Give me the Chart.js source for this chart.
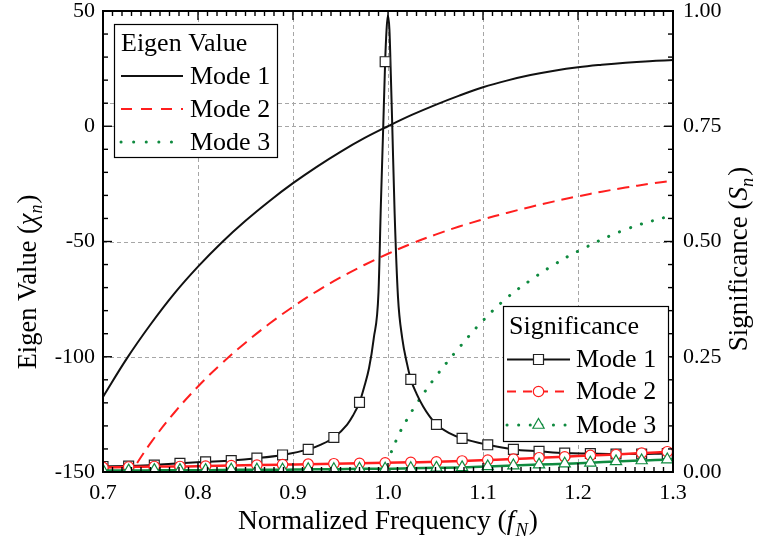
<!DOCTYPE html>
<html>
<head>
<meta charset="utf-8">
<title>Eigen Value and Significance</title>
<script src="https://cdn.jsdelivr.net/npm/chart.js@4.4.1/dist/chart.umd.min.js"></script>
<style>
  html, body { margin: 0; padding: 0; background: #ffffff; }
  canvas { display: block; }
</style>
</head>
<body>
<canvas id="chart" width="757" height="551"></canvas>
<script>
// ---------------------------------------------------------------- data
const freqTicks  = [0.7, 0.8, 0.9, 1.0, 1.1, 1.2, 1.3];
const eigenTicks = [-150, -100, -50, 0, 50];
const sigTicks   = [0, 0.25, 0.5, 0.75, 1.0];
const freqGrid   = [0.8, 0.9, 1.0, 1.1, 1.2];
const eigenGrid  = [10, 0, -50, -100];

const modeLabels = ['Mode 1', 'Mode 2', 'Mode 3'];

// Eigenvalue (chi_n) of each characteristic mode versus normalized frequency
const eig1Freq = [0.700, 0.725, 0.750, 0.775, 0.800, 0.825, 0.850, 0.875, 0.900, 0.925, 0.950, 0.975, 1.000,
                  1.025, 1.050, 1.075, 1.100, 1.125, 1.150, 1.175, 1.200, 1.225, 1.250, 1.275, 1.300];
const eig1Val  = [-117.4, -100.8, -86.0, -72.6, -60.9, -50.4, -41.0, -32.5, -24.7, -17.6, -11.1, -5.2, 0.0,
                  4.9, 9.3, 13.3, 16.9, 19.8, 22.2, 24.1, 25.6, 26.7, 27.6, 28.25, 28.7];

const eig2Freq = [0.725, 0.750, 0.775, 0.800, 0.825, 0.850, 0.875, 0.900, 0.925, 0.950, 0.975, 1.000,
                  1.025, 1.050, 1.075, 1.100, 1.125, 1.150, 1.175, 1.200, 1.225, 1.250, 1.275, 1.300];
const eig2Val  = [-153, -137.5, -124.3, -112.9, -102.9, -93.9, -85.7, -78.3, -71.6, -65.6, -60.2, -55.3,
                  -50.9, -47.0, -43.5, -40.4, -37.6, -35.0, -32.6, -30.4, -28.4, -26.6, -25.0, -23.6];

const eig3Freq = [0.997, 1.00, 1.01, 1.02, 1.03, 1.05, 1.075, 1.10, 1.125, 1.15, 1.175, 1.20, 1.25, 1.30];
const eig3Val  = [-156, -146, -135, -127.2, -120.5, -108.8, -96, -84.3, -74.5, -66.8, -60, -54.2, -44.8, -38.5];

// Modal significance (S_n); symbols sit at the sampled frequencies in markerFreq
const markerFreq = [0.700, 0.727, 0.754, 0.781, 0.808, 0.835, 0.862, 0.889, 0.916, 0.943, 0.970, 0.997,
                    1.024, 1.051, 1.078, 1.105, 1.132, 1.159, 1.186, 1.213, 1.240, 1.267, 1.294];

const sig1Freq = [0.700, 0.727, 0.754, 0.781, 0.808, 0.835, 0.862, 0.889, 0.916, 0.930, 0.943, 0.957,
                  0.963, 0.970, 0.975, 0.980, 0.985, 0.990, 0.9925, 0.995, 0.997, 0.9985, 0.9998, 1.0015,
                  1.003, 1.0045, 1.007, 1.0105, 1.015, 1.020, 1.024, 1.030, 1.037, 1.044, 1.051, 1.064,
                  1.078, 1.105, 1.132, 1.159, 1.186, 1.213, 1.240, 1.267, 1.294, 1.300];
const sig1Val  = [0.012, 0.013, 0.015, 0.019, 0.022, 0.025, 0.030, 0.037, 0.049, 0.060, 0.075, 0.103,
                  0.122, 0.151, 0.185, 0.225, 0.290, 0.390, 0.580, 0.750, 0.890, 0.960, 0.990, 0.960,
                  0.860, 0.750, 0.560, 0.380, 0.290, 0.235, 0.201, 0.170, 0.142, 0.120, 0.103, 0.085,
                  0.073, 0.059, 0.049, 0.045, 0.041, 0.040, 0.039, 0.039, 0.040, 0.040];

const sig2Freq = [0.700, 0.727, 0.754, 0.781, 0.808, 0.835, 0.862, 0.889, 0.916, 0.943, 0.970, 0.997,
                  1.024, 1.051, 1.078, 1.105, 1.132, 1.159, 1.186, 1.213, 1.240, 1.267, 1.294, 1.300];
const sig2Val  = [0.010, 0.011, 0.012, 0.012, 0.013, 0.014, 0.015, 0.016, 0.017, 0.018, 0.019, 0.020,
                  0.021, 0.022, 0.024, 0.026, 0.028, 0.031, 0.033, 0.036, 0.038, 0.041, 0.044, 0.045];

const sig3Freq = sig2Freq;
const sig3Val  = [0.003, 0.003, 0.004, 0.004, 0.004, 0.005, 0.005, 0.005, 0.006, 0.006, 0.007, 0.007,
                  0.008, 0.009, 0.010, 0.012, 0.014, 0.016, 0.018, 0.020, 0.023, 0.025, 0.027, 0.028];

// ---------------------------------------------------------------- styling
const SERIF = '"Liberation Serif", "Times New Roman", Times, serif';
const BLACK = '#111111';
const RED   = '#ff1e1e';
const GREEN = '#0f8a3f';

const toXY = (xs, ys) => xs.map((x, i) => ({ x: x, y: ys[i] }));
const markerRadius = (xs, r) => xs.map(x => markerFreq.some(m => Math.abs(m - x) < 1e-9) ? r : 0);

const smooth = { cubicInterpolationMode: 'default', tension: 0.4 };

const eigenDatasets = [
  Object.assign({ label: modeLabels[0], group: 'eigen', yAxisID: 'y', data: toXY(eig1Freq, eig1Val),
    borderColor: BLACK, borderWidth: 2, pointRadius: 0, order: 6 }, smooth),
  Object.assign({ label: modeLabels[1], group: 'eigen', yAxisID: 'y', data: toXY(eig2Freq, eig2Val),
    borderColor: RED, borderWidth: 2, borderDash: [12, 7], pointRadius: 0, order: 5 }, smooth),
  Object.assign({ label: modeLabels[2], group: 'eigen', yAxisID: 'y', data: toXY(eig3Freq, eig3Val),
    borderColor: GREEN, borderWidth: 3, borderDash: [0.1, 11.5], borderCapStyle: 'round', pointRadius: 0, order: 4 }, smooth)
];

const sigDatasets = [
  { label: modeLabels[0], group: 'sig', yAxisID: 'y2', data: toXY(sig1Freq, sig1Val),
    borderColor: BLACK, borderWidth: 2, pointStyle: 'rect', pointRadius: markerRadius(sig1Freq, 7),
    pointBorderColor: '#222222', pointBackgroundColor: '#ffffff', pointBorderWidth: 1.2, order: 3 },
  { label: modeLabels[1], group: 'sig', yAxisID: 'y2', data: toXY(sig2Freq, sig2Val),
    borderColor: RED, borderWidth: 2.5, pointStyle: 'circle', pointRadius: markerRadius(sig2Freq, 5.2),
    pointBorderColor: RED, pointBackgroundColor: '#ffffff', pointBorderWidth: 1.2, order: 2 },
  { label: modeLabels[2], group: 'sig', yAxisID: 'y2', data: toXY(sig3Freq, sig3Val),
    borderColor: GREEN, borderWidth: 2.5, pointStyle: 'triangle', pointRadius: markerRadius(sig3Freq, 6.5),
    pointBorderColor: GREEN, pointBackgroundColor: '#ffffff', pointBorderWidth: 1.2, order: 1 }
];

// ---------------------------------------------------------------- drawing helpers
function strokeLine(ctx, x1, y1, x2, y2) {
  ctx.beginPath(); ctx.moveTo(x1, y1); ctx.lineTo(x2, y2); ctx.stroke();
}

function drawSymbol(ctx, style, x, y, color) {
  ctx.save();
  ctx.setLineDash([]);
  ctx.fillStyle = '#ffffff';
  ctx.strokeStyle = color;
  ctx.lineWidth = 1.2;
  ctx.beginPath();
  if (style === 'rect') {
    ctx.rect(x - 5, y - 5, 10, 10);
  } else if (style === 'circle') {
    ctx.arc(x, y, 5.2, 0, Math.PI * 2);
  } else if (style === 'triangle') {
    const r = 6.5;
    ctx.moveTo(x, y - r);
    ctx.lineTo(x + r * Math.sin(Math.PI * 2 / 3), y - r * Math.cos(Math.PI * 2 / 3));
    ctx.lineTo(x + r * Math.sin(Math.PI * 4 / 3), y - r * Math.cos(Math.PI * 4 / 3));
    ctx.closePath();
  }
  ctx.fill();
  ctx.stroke();
  ctx.restore();
}

// text made of plain / italic / subscript runs, centred on (cx, cy)
function drawRich(ctx, runs, cx, cy, size) {
  const fontFor = r => (r.italic ? 'italic ' : '') + (r.sub ? size * 0.68 : size) + 'px ' + SERIF;
  let total = 0;
  runs.forEach(r => { ctx.font = fontFor(r); r.w = ctx.measureText(r.t).width + (r.gap || 0); total += r.w; });
  let x = cx - total / 2;
  const base = cy + size * 0.33;
  ctx.textAlign = 'left';
  ctx.textBaseline = 'alphabetic';
  runs.forEach(r => {
    ctx.font = fontFor(r);
    ctx.fillText(r.t, x, base + (r.sub ? size * 0.24 : 0));
    x += r.w;
  });
}

function drawLegend(ctx, box, title, datasets) {
  ctx.save();
  ctx.fillStyle = '#ffffff';
  ctx.fillRect(box.x, box.y, box.w, box.h);
  ctx.strokeStyle = '#000000';
  ctx.lineWidth = 1.2;
  ctx.strokeRect(box.x + 0.5, box.y + 0.5, box.w, box.h);

  ctx.fillStyle = '#000000';
  ctx.font = box.font + 'px ' + SERIF;
  ctx.textAlign = 'left';
  ctx.textBaseline = 'middle';
  ctx.fillText(title, box.textX0, box.titleY);

  datasets.forEach((ds, i) => {
    const y = box.rowY[i];
    ctx.save();
    ctx.strokeStyle = ds.borderColor;
    ctx.lineWidth = ds.borderWidth;
    ctx.lineCap = ds.borderCapStyle || 'butt';
    ctx.setLineDash(ds.legendDash || []);
    strokeLine(ctx, box.lineX1, y, box.lineX2, y);
    ctx.restore();
    if (ds.pointStyle) drawSymbol(ctx, ds.pointStyle, (box.lineX1 + box.lineX2) / 2, y, ds.pointBorderColor);
    ctx.fillStyle = '#000000';
    ctx.font = box.font + 'px ' + SERIF;
    ctx.fillText(ds.label, box.textX, y + 1);
  });
  ctx.restore();
}

// ---------------------------------------------------------------- frame, ticks, grid, legends, titles
const decorations = {
  id: 'decorations',
  beforeDatasetsDraw(chart) {
    const { ctx, chartArea: a, scales } = chart;
    ctx.save();
    ctx.strokeStyle = '#a6a6a6';
    ctx.lineWidth = 1;
    ctx.setLineDash([4, 3]);
    freqGrid.forEach(v => {
      const px = Math.round(scales.x.getPixelForValue(v)) + 0.5;
      strokeLine(ctx, px, a.top, px, a.bottom);
    });
    eigenGrid.forEach(v => {
      const py = Math.round(scales.y.getPixelForValue(v)) + 0.5;
      strokeLine(ctx, a.left, py, a.right, py);
    });
    ctx.restore();
  },
  afterDatasetsDraw(chart) {
    const { ctx, chartArea: a, scales } = chart;
    ctx.save();
    ctx.strokeStyle = '#000000';
    ctx.lineWidth = 1.4;
    ctx.setLineDash([]);
    // minor + major ticks on bottom and top edges, pointing inward
    for (let i = 0; i <= 60; i++) {
      const px = scales.x.getPixelForValue(0.7 + i * 0.01);
      const len = i % 10 === 0 ? 9 : 5;
      strokeLine(ctx, px, a.bottom, px, a.bottom - len);
      strokeLine(ctx, px, a.top, px, a.top + len);
    }
    // left axis ticks every 10, right axis every 0.05
    for (let i = 0; i <= 20; i++) {
      const pyL = scales.y.getPixelForValue(-150 + i * 10);
      strokeLine(ctx, a.left, pyL, a.left + (i % 5 === 0 ? 9 : 5), pyL);
      const pyR = scales.y2.getPixelForValue(i * 0.05);
      strokeLine(ctx, a.right, pyR, a.right - (i % 5 === 0 ? 9 : 5), pyR);
    }
    ctx.lineWidth = 2;
    ctx.strokeRect(a.left, a.top, a.right - a.left, a.bottom - a.top);
    ctx.restore();

    const ds = chart.data.datasets;
    const eigenLegendDash = [[], [11, 9], [0.1, 12.5]];
    drawLegend(ctx, {
      x: 114, y: 24, w: 163, h: 133, font: 26,
      textX0: 121, titleY: 44, rowY: [76, 109, 142],
      lineX1: 121, lineX2: 183, textX: 190
    }, 'Eigen Value', ds.filter(d => d.group === 'eigen').map((d, i) => Object.assign({}, d, {
      pointStyle: null, legendDash: eigenLegendDash[i] })));
    const sigLegendDash = [[], [9, 7], [0.1, 11.5]];
    drawLegend(ctx, {
      x: 503, y: 306, w: 165, h: 135, font: 26,
      textX0: 509, titleY: 327, rowY: [359.5, 391.5, 425],
      lineX1: 507, lineX2: 570, textX: 576
    }, 'Significance', ds.filter(d => d.group === 'sig').map((d, i) => Object.assign({}, d, {
      legendDash: sigLegendDash[i], borderCapStyle: i === 2 ? 'round' : 'butt',
      borderWidth: i === 2 ? 3 : 2 })));

    // axis titles
    ctx.save();
    ctx.fillStyle = '#000000';
    drawRich(ctx, [
      { t: 'Normalized Frequency (' }, { t: 'f', italic: true, gap: 1 }, { t: 'N', italic: true, sub: true, gap: 1 }, { t: ')' }
    ], (a.left + a.right) / 2, 520, 27.5);
    ctx.save();
    ctx.translate(27, 282);
    ctx.rotate(-Math.PI / 2);
    drawRich(ctx, [
      { t: 'Eigen Value (' }, { t: '\u03C7', italic: true }, { t: 'n', italic: true, sub: true, gap: 1 }, { t: ')' }
    ], 0, 0, 26.5);
    ctx.restore();
    ctx.save();
    ctx.translate(738, 259);
    ctx.rotate(-Math.PI / 2);
    drawRich(ctx, [
      { t: 'Significance (' }, { t: 'S', italic: true }, { t: 'n', italic: true, sub: true, gap: 2 }, { t: ')' }
    ], 0, 0, 27);
    ctx.restore();
    ctx.restore();
  }
};

// ---------------------------------------------------------------- chart
const tickFont = { family: SERIF, size: 22, lineHeight: 1 };

new Chart(document.getElementById('chart'), {
  type: 'line',
  data: { datasets: [...sigDatasets, ...eigenDatasets] },
  options: {
    responsive: false,
    animation: false,
    devicePixelRatio: 1,
    layout: { padding: { top: 11, left: 0, right: 0, bottom: 0 } },
    elements: { line: { cubicInterpolationMode: 'monotone', fill: false } },
    plugins: { legend: { display: false }, tooltip: { enabled: false } },
    scales: {
      x: {
        type: 'linear', min: 0.7, max: 1.3,
        grid: { display: false, drawTicks: false }, border: { display: false },
        afterBuildTicks: s => { s.ticks = freqTicks.map(v => ({ value: v })); },
        ticks: { font: tickFont, color: '#000000', padding: 10, maxRotation: 0, autoSkip: false,
                 callback: v => Number(v).toFixed(1) },
        afterFit: s => { s.height = 79; s.paddingLeft = 0; s.paddingRight = 0; }
      },
      y: {
        type: 'linear', position: 'left', min: -150, max: 50,
        grid: { display: false, drawTicks: false }, border: { display: false },
        afterBuildTicks: s => { s.ticks = eigenTicks.map(v => ({ value: v })); },
        ticks: { font: tickFont, color: '#000000', padding: 8, autoSkip: false,
                 callback: v => String(v) },
        afterFit: s => { s.width = 103; s.paddingTop = 0; s.paddingBottom = 0; }
      },
      y2: {
        type: 'linear', position: 'right', min: 0, max: 1,
        grid: { display: false, drawTicks: false }, border: { display: false },
        afterBuildTicks: s => { s.ticks = sigTicks.map(v => ({ value: v })); },
        ticks: { font: tickFont, color: '#000000', padding: 10, autoSkip: false,
                 callback: v => Number(v).toFixed(2) },
        afterFit: s => { s.width = 84; s.paddingTop = 0; s.paddingBottom = 0; }
      }
    }
  },
  plugins: [decorations]
});
</script>
</body>
</html>
